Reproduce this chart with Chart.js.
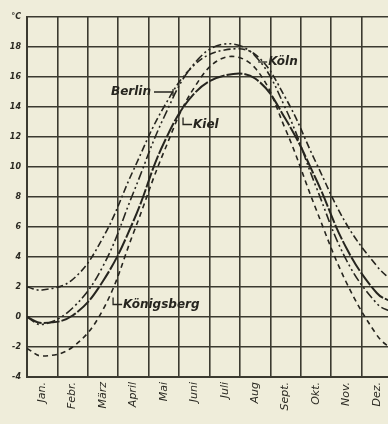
<!DOCTYPE html>
<html>
<head>
<meta charset="utf-8">
<script src="https://cdn.jsdelivr.net/npm/chart.js@4/dist/chart.umd.min.js"></script>
<style>
html, body { margin: 0; padding: 0; background: #efedda; overflow: hidden; }
canvas { display: block; }
</style>
</head>
<body>
<canvas id="chart" width="400" height="424"></canvas>
<script>
// month labels and where the curves are sampled (month units, edges + mid-month)
var months = ['Jan.', 'Febr.', 'März', 'April', 'Mai', 'Juni', 'Juli', 'Aug', 'Sept.', 'Okt.', 'Nov.', 'Dez.'];
var xs = [0, 0.5, 1.5, 2.5, 3.5, 4.5, 5.5, 6.5, 7.5, 8.5, 9.5, 10.5, 11.5, 12];

// mean temperature in °C
var koeln      = [2.0, 1.8, 2.5, 5.3, 9.8, 14.0, 16.8, 17.8, 17.5, 14.6, 10.3, 6.2, 3.4, 2.4];
var berlin     = [0.0, -0.5, 0.6, 3.4, 8.3, 13.3, 16.9, 18.2, 17.4, 13.9, 8.7, 3.8, 0.9, 0.3];
var kiel       = [0.0, -0.4, 0.1, 2.4, 6.4, 11.6, 14.9, 16.1, 15.9, 13.2, 9.2, 4.6, 1.6, 1.0];
var koenigsberg = [-2.1, -2.6, -2.0, 0.5, 5.6, 11.0, 15.3, 17.3, 16.6, 12.5, 7.2, 2.3, -1.2, -2.2];

// name tags: where the leader touches the curve (month units, °C)
var tags = [
  { text: 'Berlin', x: 4.8, y: 15.0, side: 'left' },
  { text: 'Kiel', x: 5.13, y: 13.3, side: 'down' },
  { text: 'Köln', x: 7.6, y: 17.0, side: 'right' },
  { text: 'Königsberg', x: 2.83, y: 1.3, side: 'down' }
];

function series(label, vals, dash, width) {
  return {
    label: label,
    data: xs.map(function (x, i) { return { x: x, y: vals[i] }; }),
    borderColor: '#26251f',
    borderWidth: width,
    borderDash: dash,
    pointRadius: 0,
    tension: 0.4,
    fill: false
  };
}

var gridColor = '#3b3a30';

var tagPlugin = {
  id: 'tags',
  afterDatasetsDraw: function (chart) {
    var c = chart.ctx;
    var sx = chart.scales.x, sy = chart.scales.y;
    c.save();
    c.strokeStyle = '#26251f';
    c.fillStyle = '#26251f';
    c.lineWidth = 1.3;
    c.font = 'italic bold 12px "DejaVu Sans"';
    c.textBaseline = 'middle';
    tags.forEach(function (t) {
      var px = sx.getPixelForValue(t.x), py = sy.getPixelForValue(t.y);
      c.beginPath();
      if (t.side === 'left') {
        c.moveTo(px, py); c.lineTo(px - 19, py);
        c.moveTo(px, py - 3); c.lineTo(px, py + 4);
        c.stroke();
        c.textAlign = 'right';
        c.fillText(t.text, px - 22, py);
      } else if (t.side === 'right') {
        c.moveTo(px, py); c.lineTo(px + 9, py);
        c.stroke();
        c.textAlign = 'left';
        c.fillText(t.text, px + 10, py);
      } else {
        c.moveTo(px, py); c.lineTo(px, py + 7); c.lineTo(px + 9, py + 7);
        c.stroke();
        c.textAlign = 'left';
        c.fillText(t.text, px + 10, py + 7);
      }
    });
    c.restore();
  }
};

new Chart(document.getElementById('chart'), {
  type: 'line',
  data: {
    datasets: [
      series('Köln', koeln, [7, 3, 2, 3], 1.6),
      series('Berlin', berlin, [9, 3, 2, 3, 2, 3], 1.6),
      series('Kiel', kiel, [16, 2], 2),
      series('Königsberg', koenigsberg, [5, 4], 1.6)
    ]
  },
  options: {
    responsive: false,
    animation: false,
    devicePixelRatio: 1,
    layout: { padding: { top: 17, right: 8, left: 0, bottom: 0 } },
    plugins: { legend: { display: false }, tooltip: { enabled: false } },
    scales: {
      x: { type: 'linear', min: 0, max: 12, display: false },
      xm: {
        type: 'category',
        labels: months,
        position: 'bottom',
        offset: true,
        grid: { offset: true, color: gridColor, lineWidth: 1.6, drawTicks: false },
        border: { color: gridColor, width: 2 },
        ticks: {
          minRotation: 90, maxRotation: 90, padding: 5,
          color: '#2a2922',
          font: { family: 'DejaVu Sans', style: 'italic', size: 11 }
        },
        afterFit: function (s) { s.height = 47; }
      },
      y: {
        min: -4, max: 20,
        grid: { color: gridColor, lineWidth: 1.6, drawTicks: false },
        border: { color: gridColor, width: 2 },
        ticks: {
          stepSize: 2, padding: 6,
          color: '#2a2922',
          font: { family: 'DejaVu Sans', style: 'italic', weight: 'bold', size: 8 },
          callback: function (v) { return v === 20 ? '°C' : v; }
        },
        afterFit: function (s) { s.width = 27; }
      }
    }
  },
  plugins: [tagPlugin]
});
</script>
</body>
</html>
